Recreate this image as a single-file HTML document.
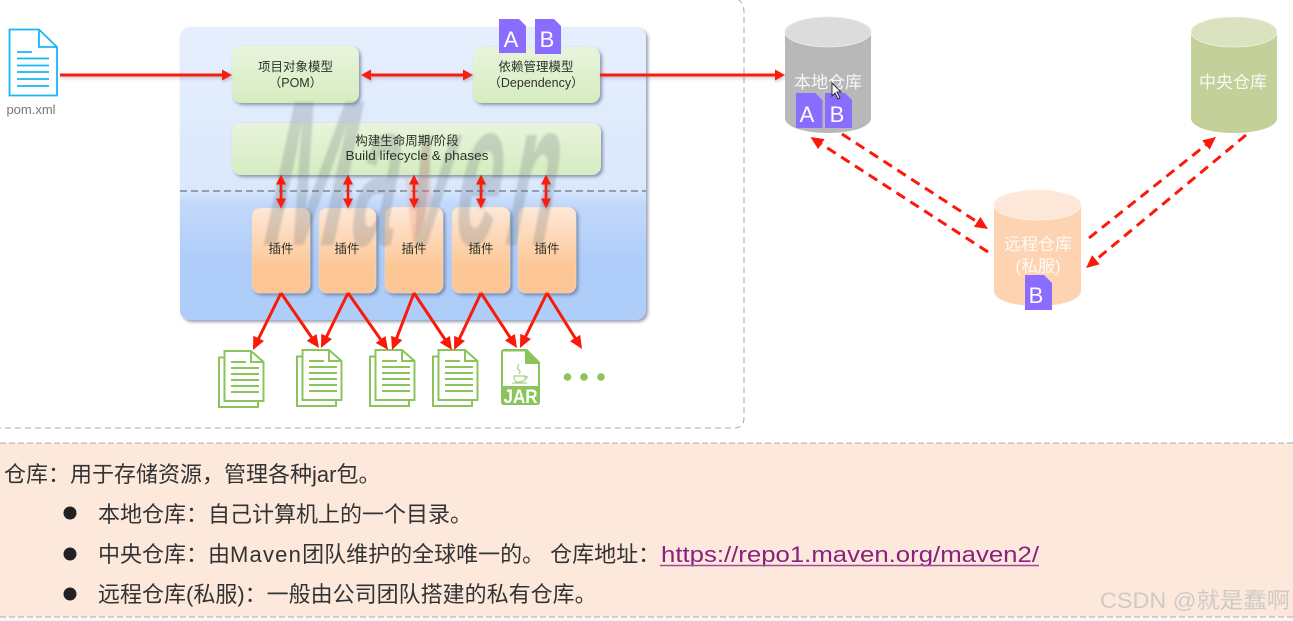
<!DOCTYPE html>
<html><head><meta charset="utf-8"><style>
html,body{margin:0;padding:0;background:#fff;width:1293px;height:621px;overflow:hidden}
svg{display:block}
text{font-family:"Liberation Sans","Noto Sans CJK SC",sans-serif}
</style></head><body>
<svg width="1293" height="621" viewBox="0 0 1293 621" xmlns="http://www.w3.org/2000/svg">
<defs>
<linearGradient id="bg" x1="0" y1="0" x2="0" y2="1"><stop offset="0" stop-color="#e6effd"/><stop offset=".55" stop-color="#dbe8fc"/><stop offset=".6" stop-color="#c3d9fb"/><stop offset=".8" stop-color="#aecdf9"/><stop offset="1" stop-color="#aecdf9"/></linearGradient>
<linearGradient id="gr" x1="0" y1="0" x2="0" y2="1"><stop offset="0" stop-color="#e8f4dc"/><stop offset="1" stop-color="#d5ecc0"/></linearGradient>
<linearGradient id="or" x1="0" y1="0" x2="0" y2="1"><stop offset="0" stop-color="#fde8d8"/><stop offset=".7" stop-color="#fdc795"/><stop offset="1" stop-color="#fdc596"/></linearGradient>
<filter id="sh" x="-10%" y="-10%" width="125%" height="125%"><feDropShadow dx="2" dy="2" stdDeviation="1.5" flood-color="#405070" flood-opacity=".55"/></filter>
<filter id="sl" x="-5%" y="-20%" width="110%" height="160%"><feDropShadow dx="1" dy="2" stdDeviation="1.5" flood-color="#555" flood-opacity=".3"/></filter>
<filter id="bl" x="-5%" y="-5%" width="110%" height="110%"><feGaussianBlur stdDeviation="1"/></filter>
<symbol id="doc" width="48" height="60" viewBox="0 0 48 60" overflow="visible">
<path d="M1 7.5H40V57H1Z" fill="#fff" stroke="#8cc45c" stroke-width="2"/>
<path d="M6.5 1H33L45.5 12V51H6.5Z" fill="#fff" stroke="#8cc45c" stroke-width="2"/>
<path d="M33 1V12H45.5" fill="none" stroke="#8cc45c" stroke-width="2"/>
<path d="M13 12H28M13 18H41M13 24H41M13 30H41M13 36H41M13 42H41" stroke="#8cc45c" stroke-width="2"/>
</symbol>
<marker id="ah" markerUnits="userSpaceOnUse" markerWidth="15" markerHeight="13" refX="7" refY="6" orient="auto"><path d="M0 0L13 6L0 12Z" fill="#fb1a0a"/></marker>
<marker id="ad" markerUnits="userSpaceOnUse" markerWidth="15" markerHeight="13" refX="7" refY="6" orient="auto"><path d="M0 0L13 6L0 12Z" fill="#fb1a0a"/></marker>
</defs>
<rect width="1293" height="621" fill="#fff"/>
<!-- frames -->
<path d="M738 -1Q744 4 744 12V418Q744 428 734 428H-5" fill="none" stroke="#a8a8a8" stroke-width="1" stroke-dasharray="6 4"/>
<rect x="-2" y="443" width="1300" height="174" fill="#fde9dc"/>
<path d="M0 443H1293M0 617H1293" stroke="#aaa" stroke-width="1" stroke-dasharray="6 3"/>
<rect x="0" y="618" width="1293" height="3" fill="#f6f6f6"/>
<!-- main box -->
<rect x="180" y="27" width="466" height="293" rx="10" fill="url(#bg)" filter="url(#sh)"/>
<line x1="180" y1="191" x2="646" y2="191" stroke="#6a7688" stroke-width="1.2" stroke-dasharray="7 4"/>
<rect x="232" y="46" width="127" height="57" rx="9" fill="url(#gr)" filter="url(#sh)"/>
<rect x="473" y="47" width="127" height="56" rx="9" fill="url(#gr)" filter="url(#sh)"/>
<rect x="232" y="123" width="369" height="52" rx="9" fill="url(#gr)" filter="url(#sh)"/>
<g fill="url(#or)" filter="url(#sh)" stroke="#e9dccd" stroke-width=".6">
<rect x="252" y="208" width="58" height="85" rx="8"/>
<rect x="319" y="208" width="57" height="85" rx="8"/>
<rect x="385" y="207" width="58" height="86" rx="8"/>
<rect x="452" y="207" width="58" height="86" rx="8"/>
<rect x="518" y="207" width="58" height="86" rx="8"/>
</g>
<!-- Maven watermark -->
<g filter="url(#bl)" font-size="208" font-style="italic" font-weight="bold" fill="#5f6b74" fill-opacity=".24">
<text y="245" transform="translate(292,0) skewX(-7) scale(.48,1)">M</text>
<text y="245" transform="translate(380,0) skewX(-7) scale(.38,1)">a</text>
<text y="245" transform="translate(434,0) skewX(-7) scale(.36,1)">v</text>
<text y="245" transform="translate(482,0) skewX(-7) scale(.38,1)">e</text>
<text y="245" transform="translate(534,0) skewX(-7) scale(.38,1)">n</text>
</g>
<path d="M413 245L405 175L416 190L428 130L432 200Z" fill="#e88a70" fill-opacity=".25" filter="url(#bl)"/>
<!-- box labels -->
<g font-size="12.5" fill="#2d3328" text-anchor="middle">
<text x="295.500" y="71">项目对象模型</text>
<text x="295.500" y="87">（POM）</text>
<text x="536" y="71">依赖管理模型</text>
<text x="536" y="87">（Dependency）</text>
<text x="407" y="145">构建生命周期/阶段</text>
<text x="417" y="160" textLength="143" lengthAdjust="spacingAndGlyphs">Build lifecycle &amp; phases</text>
<text x="281" y="253">插件</text><text x="347" y="253">插件</text><text x="414" y="253">插件</text><text x="481" y="253">插件</text><text x="547" y="253">插件</text>
</g>
<!-- pom doc -->
<path d="M9.500 29.500H39L57 47V95.500H9.500Z" fill="#fff" stroke="#1ab5f5" stroke-width="1.8"/>
<path d="M39 29.500V47H57" fill="none" stroke="#1ab5f5" stroke-width="1.8"/>
<path d="M17 52H32M17 58.500H49M17 65.500H49M17 72H49M17 79H49M17 86H49" stroke="#1ab5f5" stroke-width="1.800"/>
<text x="31" y="114" font-size="13" fill="#777" text-anchor="middle">pom.xml</text>
<!-- docs row -->
<use href="#doc" x="218" y="350"/><use href="#doc" x="296" y="349"/><use href="#doc" x="369" y="349"/><use href="#doc" x="432" y="349"/>
<!-- JAR -->
<path d="M504 349H527L540 362V402Q540 405 537 405H504Q501 405 501 402V352Q501 349 504 349Z" fill="#8cc45c"/>
<path d="M503 351.500H525V364H538V386H503Z" fill="#fff"/>
<path d="M514 376H525V380Q522 382 517 382Q514 381 514 376ZM525 376.500Q529 376 526 379M512 383H527M519 364Q516 368 519 370Q521 372 519 374" fill="none" stroke="#a9d088" stroke-width="1.200"/>
<text x="520.500" y="403" font-size="19" font-weight="bold" fill="#fff" text-anchor="middle" textLength="34" lengthAdjust="spacingAndGlyphs">JAR</text>
<circle cx="567.500" cy="377" r="3.800" fill="#8cc45c"/><circle cx="584" cy="377" r="3.800" fill="#8cc45c"/><circle cx="601" cy="377" r="3.800" fill="#8cc45c"/>
<!-- purple docs top -->
<g fill="#8a6dff">
<path d="M499 19H519L526 26V53H499Z"/><path d="M535 19H554L561 26V54H535Z"/>
</g>
<g font-size="22" fill="#fff" text-anchor="middle"><text x="511" y="47">A</text><text x="547" y="47">B</text></g>
<!-- cylinders -->
<path d="M785 32V118C785 127 804 133 828 133S871 127 871 118V32Z" fill="#b8b8b8"/>
<ellipse cx="828" cy="32" rx="43" ry="15" fill="#dcdcdc" stroke="#ececec" stroke-width=".8"/>
<path d="M1191 32V118C1191 127 1210 133 1234 133S1277 127 1277 118V32Z" fill="#c3d09a"/>
<ellipse cx="1234" cy="32" rx="43" ry="15" fill="#dbe2c0" stroke="#eef2df" stroke-width=".8"/>
<path d="M994 205V291C994 300 1013 306 1037 306S1081 300 1081 291V205Z" fill="#fdd3b2"/>
<ellipse cx="1037.500" cy="205" rx="43.500" ry="15" fill="#fde7d8" stroke="#fff0e6" stroke-width=".8"/>
<g font-size="17" fill="#fff" fill-opacity=".88" text-anchor="middle">
<text x="828" y="88">本地仓库</text><text x="1233" y="88">中央仓库</text>
<text x="1038" y="250">远程仓库</text><text x="1038" y="272">(私服)</text>
</g>
<g fill="#8a6dff">
<path d="M796 93H815L822.500 100V128H796Z"/><path d="M825 93H845L852 100V128H825Z"/>
<path d="M1025 275H1044L1052 283V310H1025Z"/>
</g>
<g font-size="22" fill="#fff" text-anchor="middle"><text x="807" y="122">A</text><text x="837" y="122">B</text><text x="1036" y="303">B</text></g>
<path d="M832 83V96L835 93L838 99L840 98L837 92L841 92Z" fill="#fff" stroke="#222" stroke-width=".9"/>
<!-- arrows -->
<g stroke="#fb1a0a" fill="#fb1a0a" filter="url(#sl)">
<path d="M60 75H224M369 75H465M600 75H777" stroke-width="3" fill="none"/>
<path d="M232 75L222 69.500V80.500ZM361 75L371 69.500V80.500ZM473 75L463 69.500V80.500ZM785 75L775 69.500V80.500Z" stroke="none"/>
</g>
<g stroke="#fb1a0a" stroke-width="2.600" fill="#fb1a0a" filter="url(#sl)">
<path d="M281 182V201M348 182V201M414 182V201M481 182V201M546 182V201"/>
<g stroke="none">
<path d="M281 174.500L276 184.500H286ZM281 208.500L276 198.500H286Z"/>
<path d="M348 174.500L343 184.500H353ZM348 208.500L343 198.500H353Z"/>
<path d="M414 174.500L409 184.500H419ZM414 208.500L409 198.500H419Z"/>
<path d="M481 174.500L476 184.500H486ZM481 208.500L476 198.500H486Z"/>
<path d="M546 174.500L541 184.500H551ZM546 208.500L541 198.500H551Z"/>
</g>
</g>
<g stroke="#fb1a0a" stroke-width="3" fill="none">
<line x1="281" y1="293" x2="255.600" y2="344.600" marker-end="url(#ah)"/>
<line x1="281" y1="293" x2="315.600" y2="343.100" marker-end="url(#ah)"/>
<line x1="348" y1="293" x2="323.600" y2="342.600" marker-end="url(#ah)"/>
<line x1="348" y1="293" x2="384.600" y2="345.100" marker-end="url(#ah)"/>
<line x1="414" y1="293" x2="394.200" y2="344.400" marker-end="url(#ah)"/>
<line x1="414" y1="293" x2="448.700" y2="345" marker-end="url(#ah)"/>
<line x1="481" y1="293" x2="456.600" y2="344.600" marker-end="url(#ah)"/>
<line x1="481" y1="293" x2="513.700" y2="343" marker-end="url(#ah)"/>
<line x1="547" y1="293" x2="522.600" y2="342.600" marker-end="url(#ah)"/>
<line x1="547" y1="293" x2="578.800" y2="343.900" marker-end="url(#ah)"/>
</g>
<g stroke="#fb1a0a" stroke-width="3" fill="none" stroke-dasharray="10 6.500">
<line x1="842" y1="134" x2="983" y2="225.700" marker-end="url(#ad)"/>
<line x1="988" y1="252" x2="815.500" y2="140.300" marker-end="url(#ad)"/>
<line x1="1089" y1="238" x2="1211.300" y2="140.700" marker-end="url(#ad)"/>
<line x1="1246" y1="135" x2="1090.600" y2="264.200" marker-end="url(#ad)"/>
</g>
<!-- bottom text -->
<g font-size="22" fill="#333">
<text x="4" y="482">仓库：用于存储资源，管理各种jar包。</text>
<text x="98" y="522">本地仓库：自己计算机上的一个目录。</text>
<text x="98" y="562">中央仓库：由<tspan letter-spacing="1.2">Maven</tspan>团队维护的全球唯一的。 仓库地址：</text>
<text x="98" y="602">远程仓库(私服)：一般由公司团队搭建的私有仓库。</text>
</g>
<circle cx="70" cy="513" r="6.500" fill="#222"/><circle cx="70" cy="554" r="6.500" fill="#222"/><circle cx="70" cy="594" r="6.500" fill="#222"/>
<text x="661" y="562" font-size="22" fill="#8a2080" textLength="378" lengthAdjust="spacingAndGlyphs">https://repo1.maven.org/maven2/</text>
<line x1="660" y1="565.500" x2="1039" y2="565.500" stroke="#a04a98" stroke-width="1.500"/>
<text x="1100" y="608" font-size="22" fill="#cfcac6" textLength="190" lengthAdjust="spacingAndGlyphs">CSDN @就是蠢啊</text>
</svg>
</body></html>
